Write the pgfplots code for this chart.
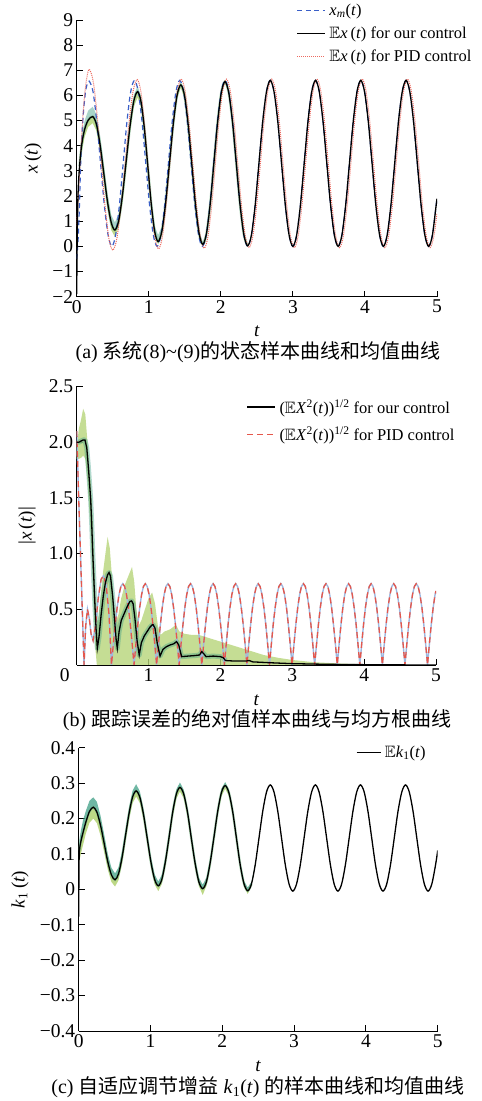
\documentclass[border=0pt]{standalone}
\usepackage{amssymb}
\usepackage{fontspec}
\setmainfont{Liberation Serif}
\newfontfamily\cjk{Noto Sans CJK SC}
\usepackage{pgfplots}
\usepackage{pgfplotstable}
\usepgfplotslibrary{fillbetween}
\pgfplotsset{compat=1.18}
\definecolor{myblue}{HTML}{3A5FC8}
\definecolor{myred}{HTML}{E5574C}
\definecolor{dotred}{HTML}{EC6A60}
\definecolor{ltblue}{HTML}{9FB8E0}
\definecolor{ygreen}{HTML}{B6D479}
\definecolor{tealg}{HTML}{3F9F86}

\pgfplotsset{myax/.style={
  scale only axis, anchor=south west,
  axis lines=left, axis line style={-, line width=0.9pt},
  every outer x axis line/.append style={-}, every outer y axis line/.append style={-},
  tick align=inside, major tick length=6pt,
  every tick/.style={black, line width=0.9pt},
  tick label style={font=\fontsize{19.5}{21}\selectfont},
  label style={font=\fontsize{19}{21}\selectfont},
  x label style={at={(axis description cs:0.5,0)}, yshift=-35pt, anchor=center},
  /pgf/number format/assume math mode=true,
  xmin=0, xmax=5, xtick={0,1,2,3,4,5},
  legend style={draw=none, fill=none, font=\fontsize{16.5}{19}\selectfont, legend cell align=left, inner sep=0pt,
     nodes={inner xsep=3.5pt, inner ysep=2.5pt}},
  legend image code/.code={\draw[##1] (0pt,0pt) -- (28pt,0pt);},
}}

% ---------- data (a) ----------
\pgfplotstableread[row sep=\\]{
t v\\
0 -1.9\\ 0.008 0.6\\ 0.02 2.2\\ 0.04 3.2\\ 0.07 4.05\\ 0.11 4.65\\ 0.16 5.02\\ 0.222 5.16\\
0.273 4.86\\ 0.325 4.03\\ 0.376 2.905\\ 0.427 1.78\\ 0.479 0.95\\ 0.53 0.65\\
0.5825 1.02\\ 0.635 2.03\\ 0.6875 3.40\\ 0.74 4.78\\ 0.7925 5.78\\ 0.845 6.15\\
0.8925 5.75\\ 0.94 4.66\\ 0.9875 3.17\\ 1.035 1.68\\ 1.0825 0.59\\ 1.13 0.19\\
1.1825 0.61\\ 1.235 1.75\\ 1.2875 3.31\\ 1.34 4.86\\ 1.3925 6.00\\ 1.445 6.42\\
1.496 6.0\\ 1.547 4.835\\ 1.598 3.25\\ 1.648 1.665\\ 1.699 0.505\\ 1.75 0.08\\
1.801 0.51\\ 1.853 1.70\\ 1.904 3.315\\ 1.955 4.93\\ 2.007 6.12\\ 2.058 6.55\\
2.110 6.11\\ 2.163 4.92\\ 2.215 3.285\\ 2.267 1.65\\ 2.320 0.46\\ 2.372 0.02\\
2.424 0.442\\ 2.477 1.65\\ 2.529 3.3\\ 2.581 4.95\\ 2.634 6.158\\ 2.686 6.6\\
2.738 6.158\\ 2.791 4.95\\ 2.843 3.3\\ 2.895 1.65\\ 2.948 0.442\\ 3.000 0\\
3.052 0.442\\ 3.105 1.65\\ 3.157 3.3\\ 3.209 4.95\\ 3.262 6.158\\ 3.314 6.6\\
3.366 6.158\\ 3.419 4.95\\ 3.471 3.3\\ 3.523 1.65\\ 3.576 0.442\\ 3.628 0\\
3.680 0.442\\ 3.733 1.65\\ 3.785 3.3\\ 3.837 4.95\\ 3.890 6.158\\ 3.942 6.6\\
3.994 6.158\\ 4.047 4.95\\ 4.099 3.3\\ 4.151 1.65\\ 4.204 0.442\\ 4.256 0\\
4.308 0.442\\ 4.361 1.65\\ 4.413 3.3\\ 4.465 4.95\\ 4.518 6.158\\ 4.570 6.6\\
4.622 6.158\\ 4.675 4.95\\ 4.727 3.3\\ 4.779 1.65\\ 4.832 0.442\\ 4.884 0\\
4.936 0.442\\ 4.989 1.65\\ 5.0 1.9\\
}\blackA

\pgfplotstableread[row sep=\\]{
t v\\
0 -0.5\\ 0.02 0.3\\ 0.036 1.45\\ 0.06 3.7\\ 0.09 5.2\\ 0.12 6.1\\ 0.145 6.45\\ 0.174 6.57\\
0.226 6.158\\ 0.279 4.95\\ 0.331 3.3\\ 0.383 1.65\\ 0.436 0.442\\ 0.488 0\\
0.540 0.442\\ 0.593 1.65\\ 0.645 3.3\\ 0.697 4.95\\ 0.750 6.158\\ 0.802 6.6\\
0.854 6.158\\ 0.907 4.95\\ 0.959 3.3\\ 1.011 1.65\\ 1.064 0.442\\ 1.116 0\\
1.168 0.442\\ 1.221 1.65\\ 1.273 3.3\\ 1.325 4.95\\ 1.378 6.158\\ 1.430 6.6\\
1.482 6.158\\ 1.535 4.95\\ 1.587 3.3\\ 1.639 1.65\\ 1.692 0.442\\ 1.744 0\\
1.796 0.442\\ 1.849 1.65\\ 1.901 3.3\\ 1.953 4.95\\ 2.006 6.158\\ 2.058 6.6\\
2.110 6.158\\ 2.163 4.95\\ 2.215 3.3\\ 2.267 1.65\\ 2.320 0.442\\ 2.372 0\\
2.424 0.442\\ 2.477 1.65\\ 2.529 3.3\\ 2.581 4.95\\ 2.634 6.158\\ 2.686 6.6\\
2.738 6.158\\ 2.791 4.95\\ 2.843 3.3\\ 2.895 1.65\\ 2.948 0.442\\ 3.000 0\\
3.052 0.442\\ 3.105 1.65\\ 3.157 3.3\\ 3.209 4.95\\ 3.262 6.158\\ 3.314 6.6\\
3.366 6.158\\ 3.419 4.95\\ 3.471 3.3\\ 3.523 1.65\\ 3.576 0.442\\ 3.628 0\\
3.680 0.442\\ 3.733 1.65\\ 3.785 3.3\\ 3.837 4.95\\ 3.890 6.158\\ 3.942 6.6\\
3.994 6.158\\ 4.047 4.95\\ 4.099 3.3\\ 4.151 1.65\\ 4.204 0.442\\ 4.256 0\\
4.308 0.442\\ 4.361 1.65\\ 4.413 3.3\\ 4.465 4.95\\ 4.518 6.158\\ 4.570 6.6\\
4.622 6.158\\ 4.675 4.95\\ 4.727 3.3\\ 4.779 1.65\\ 4.832 0.442\\ 4.884 0\\
4.936 0.442\\ 4.989 1.65\\ 5.0 1.9\\
}\blueA

\pgfplotstableread[row sep=\\]{
t v\\
0 0.8\\ 0.03 2.4\\ 0.06 4.0\\ 0.1 5.7\\ 0.14 6.7\\ 0.175 7.04\\
0.229 6.56\\ 0.283 5.24\\ 0.3375 3.445\\ 0.392 1.65\\ 0.446 0.33\\ 0.5 -0.15\\
0.5567 0.30\\ 0.6133 1.545\\ 0.67 3.24\\ 0.7267 4.935\\ 0.7833 6.18\\ 0.84 6.63\\
0.889 6.18\\ 0.938 4.95\\ 0.9875 3.265\\ 1.037 1.58\\ 1.086 0.35\\ 1.135 -0.1\\
1.1875 0.35\\ 1.24 1.59\\ 1.2925 3.275\\ 1.345 4.96\\ 1.3975 6.2\\ 1.45 6.65\\
1.503 6.2\\ 1.557 4.97\\ 1.61 3.29\\ 1.663 1.61\\ 1.717 0.38\\ 1.77 -0.07\\
1.821 0.38\\ 1.873 1.61\\ 1.924 3.29\\ 1.975 4.97\\ 2.027 6.2\\ 2.078 6.65\\
2.130 6.2\\ 2.183 4.975\\ 2.235 3.3\\ 2.287 1.625\\ 2.340 0.4\\ 2.392 -0.05\\
2.444 0.4\\ 2.497 1.625\\ 2.549 3.3\\ 2.601 4.975\\ 2.654 6.2\\ 2.706 6.65\\
2.758 6.2\\ 2.811 4.975\\ 2.863 3.3\\ 2.915 1.625\\ 2.968 0.4\\ 3.020 -0.05\\
3.072 0.4\\ 3.125 1.625\\ 3.177 3.3\\ 3.229 4.975\\ 3.282 6.2\\ 3.334 6.65\\
3.386 6.2\\ 3.439 4.975\\ 3.491 3.3\\ 3.543 1.625\\ 3.596 0.4\\ 3.648 -0.05\\
3.700 0.4\\ 3.753 1.625\\ 3.805 3.3\\ 3.857 4.975\\ 3.910 6.2\\ 3.962 6.65\\
4.014 6.2\\ 4.067 4.975\\ 4.119 3.3\\ 4.171 1.625\\ 4.224 0.4\\ 4.276 -0.05\\
4.328 0.4\\ 4.381 1.625\\ 4.433 3.3\\ 4.485 4.975\\ 4.538 6.2\\ 4.590 6.65\\
4.642 6.2\\ 4.695 4.975\\ 4.747 3.3\\ 4.799 1.625\\ 4.852 0.4\\ 4.904 -0.05\\
4.956 0.4\\ 5.0 1.3\\
}\redA

\pgfplotstableread[row sep=\\]{
t lo m hi\\
0.04 2.9 3.2 3.5\\ 0.07 3.75 4.05 4.4\\ 0.11 4.35 4.65 5.0\\ 0.16 4.75 5.02 5.4\\
0.222 4.9 5.16 5.55\\ 0.273 4.6 4.86 5.25\\ 0.325 3.75 4.03 4.4\\ 0.376 2.6 2.905 3.25\\
0.427 1.5 1.78 2.1\\ 0.479 0.65 0.95 1.25\\ 0.53 0.38 0.65 0.95\\ 0.5825 0.75 1.02 1.3\\
0.635 1.75 2.03 2.3\\ 0.6875 3.15 3.40 3.65\\ 0.74 4.55 4.78 5.0\\ 0.7925 5.55 5.78 6.0\\
0.845 5.92 6.15 6.38\\ 0.8925 5.55 5.75 5.95\\ 0.94 4.45 4.66 4.85\\ 0.9875 2.97 3.17 3.37\\
1.035 1.5 1.68 1.9\\ 1.0825 0.45 0.59 0.8\\ 1.13 0.08 0.19 0.45\\ 1.1825 0.5 0.61 0.8\\
1.235 1.62 1.75 1.9\\ 1.2875 3.18 3.31 3.45\\ 1.34 4.74 4.86 4.98\\ 1.3925 5.88 6.0 6.12\\
1.445 6.3 6.42 6.55\\ 1.496 5.9 6.0 6.1\\ 1.547 4.74 4.835 4.93\\ 1.598 3.16 3.25 3.34\\
1.648 1.58 1.665 1.75\\ 1.699 0.43 0.505 0.58\\ 1.75 0.0 0.08 0.18\\ 1.801 0.44 0.51 0.58\\
1.853 1.64 1.70 1.76\\ 1.904 3.26 3.315 3.37\\ 1.955 4.88 4.93 4.98\\ 2.007 6.08 6.12 6.17\\
2.058 6.5 6.55 6.62\\ 2.110 6.07 6.11 6.15\\ 2.163 4.89 4.92 4.95\\ 2.215 3.26 3.285 3.31\\
2.267 1.63 1.65 1.67\\ 2.320 0.43 0.46 0.49\\ 2.372 -0.02 0.02 0.06\\
}\bandA

% ---------- data (b) ----------
\pgfplotstableread[row sep=\\]{
t v\\
0 2.0\\ 0.03 2.0\\ 0.06 2.01\\ 0.09 2.02\\ 0.115 2.02\\ 0.14 1.95\\ 0.162 1.78\\ 0.18 1.62\\
0.195 1.48\\ 0.21 1.25\\ 0.222 1.03\\ 0.24 0.75\\ 0.255 0.52\\ 0.27 0.32\\ 0.287 0.15\\
0.31 0.25\\ 0.34 0.45\\ 0.37 0.62\\ 0.40 0.74\\ 0.43 0.81\\ 0.45 0.83\\ 0.47 0.8\\
0.5 0.62\\ 0.53 0.38\\ 0.55 0.22\\ 0.565 0.15\\ 0.59 0.3\\ 0.62 0.4\\ 0.66 0.46\\
0.7 0.52\\ 0.74 0.57\\ 0.764 0.575\\ 0.785 0.55\\ 0.81 0.42\\ 0.84 0.22\\ 0.87 0.09\\
0.9 0.2\\ 0.94 0.26\\ 0.98 0.3\\ 1.02 0.34\\ 1.05 0.36\\ 1.065 0.36\\ 1.09 0.33\\
1.12 0.2\\ 1.16 0.08\\ 1.2 0.14\\ 1.25 0.165\\ 1.3 0.18\\ 1.35 0.19\\ 1.39 0.21\\
1.42 0.18\\ 1.46 0.075\\ 1.55 0.08\\ 1.65 0.085\\ 1.71 0.09\\ 1.74 0.12\\ 1.77 0.1\\
1.8 0.075\\ 1.9 0.08\\ 2.0 0.075\\ 2.04 0.065\\ 2.07 0.04\\ 2.2 0.035\\ 2.35 0.035\\
2.4 0.04\\ 2.45 0.028\\ 2.7 0.02\\ 3.0 0.012\\ 3.5 0.006\\ 4.0 0.003\\ 4.5 0.001\\ 5.0 0.0\\
}\blackB

\pgfplotstableread[row sep=\\]{
t v\\
0 2.1\\ 0.03 1.45\\ 0.06 0.85\\ 0.085 0.35\\ 0.102 0.0\\ 0.125 0.35\\ 0.15 0.5\\ 0.175 0.42\\
0.2 0.28\\ 0.228 0.22\\ 0.26 0.35\\ 0.3 0.6\\ 0.34 0.77\\ 0.372 0.8\\ 0.41 0.72\\ 0.45 0.45\\ 0.484 0.0\\
0.510 0.189\\ 0.536 0.365\\ 0.563 0.516\\ 0.589 0.632\\ 0.615 0.705\\ 0.641 0.73\\ 0.667 0.705\\ 0.693 0.632\\ 0.720 0.516\\ 0.746 0.365\\ 0.772 0.189\\ 0.798 0\\
0.824 0.189\\ 0.851 0.365\\ 0.877 0.516\\ 0.903 0.632\\ 0.929 0.705\\ 0.955 0.73\\ 0.981 0.705\\ 1.008 0.632\\ 1.034 0.516\\ 1.060 0.365\\ 1.086 0.189\\ 1.112 0\\
1.138 0.189\\ 1.165 0.365\\ 1.191 0.516\\ 1.217 0.632\\ 1.243 0.705\\ 1.269 0.73\\ 1.296 0.705\\ 1.322 0.632\\ 1.348 0.516\\ 1.374 0.365\\ 1.400 0.189\\ 1.426 0\\
1.452 0.189\\ 1.479 0.365\\ 1.505 0.516\\ 1.531 0.632\\ 1.557 0.705\\ 1.584 0.73\\ 1.610 0.705\\ 1.636 0.632\\ 1.662 0.516\\ 1.688 0.365\\ 1.714 0.189\\ 1.741 0\\
1.767 0.189\\ 1.793 0.365\\ 1.819 0.516\\ 1.845 0.632\\ 1.871 0.705\\ 1.898 0.73\\ 1.924 0.705\\ 1.950 0.632\\ 1.976 0.516\\ 2.002 0.365\\ 2.029 0.189\\ 2.055 0\\
2.081 0.189\\ 2.107 0.365\\ 2.133 0.516\\ 2.159 0.632\\ 2.186 0.705\\ 2.212 0.73\\ 2.238 0.705\\ 2.264 0.632\\ 2.290 0.516\\ 2.317 0.365\\ 2.343 0.189\\ 2.369 0\\
2.395 0.189\\ 2.421 0.365\\ 2.447 0.516\\ 2.474 0.632\\ 2.500 0.705\\ 2.526 0.73\\ 2.552 0.705\\ 2.578 0.632\\ 2.605 0.516\\ 2.631 0.365\\ 2.657 0.189\\ 2.683 0\\
2.709 0.189\\ 2.735 0.365\\ 2.762 0.516\\ 2.788 0.632\\ 2.814 0.705\\ 2.840 0.73\\ 2.866 0.705\\ 2.893 0.632\\ 2.919 0.516\\ 2.945 0.365\\ 2.971 0.189\\ 2.997 0\\
3.024 0.189\\ 3.050 0.365\\ 3.076 0.516\\ 3.102 0.632\\ 3.128 0.705\\ 3.155 0.73\\ 3.181 0.705\\ 3.207 0.632\\ 3.233 0.516\\ 3.259 0.365\\ 3.285 0.189\\ 3.311 0\\
3.338 0.189\\ 3.364 0.365\\ 3.390 0.516\\ 3.416 0.632\\ 3.442 0.705\\ 3.469 0.73\\ 3.495 0.705\\ 3.521 0.632\\ 3.547 0.516\\ 3.573 0.365\\ 3.600 0.189\\ 3.626 0\\
3.652 0.189\\ 3.678 0.365\\ 3.704 0.516\\ 3.730 0.632\\ 3.757 0.705\\ 3.783 0.73\\ 3.809 0.705\\ 3.835 0.632\\ 3.861 0.516\\ 3.888 0.365\\ 3.914 0.189\\ 3.940 0\\
3.966 0.189\\ 3.992 0.365\\ 4.018 0.516\\ 4.045 0.632\\ 4.071 0.705\\ 4.097 0.73\\ 4.123 0.705\\ 4.149 0.632\\ 4.175 0.516\\ 4.202 0.365\\ 4.228 0.189\\ 4.254 0\\
4.280 0.189\\ 4.306 0.365\\ 4.332 0.516\\ 4.359 0.632\\ 4.385 0.705\\ 4.411 0.73\\ 4.437 0.705\\ 4.463 0.632\\ 4.490 0.516\\ 4.516 0.365\\ 4.542 0.189\\ 4.568 0\\
4.594 0.189\\ 4.620 0.365\\ 4.647 0.516\\ 4.673 0.632\\ 4.699 0.705\\ 4.725 0.73\\ 4.751 0.705\\ 4.777 0.632\\ 4.804 0.516\\ 4.830 0.365\\ 4.856 0.189\\ 4.882 0\\
4.908 0.189\\ 4.934 0.365\\ 4.961 0.516\\ 4.987 0.632\\ 5.0 0.665\\
}\redB

\pgfplotstableread[row sep=\\]{
t lo hi\\
0 1.85 1.95\\ 0.03 1.85 2.12\\ 0.06 1.86 2.2\\ 0.09 1.88 2.3\\ 0.12 1.85 2.25\\ 0.15 1.65 2.0\\
0.18 1.35 1.75\\ 0.2 1.1 1.6\\ 0.22 0.8 1.35\\ 0.24 0.45 1.0\\ 0.26 0.15 0.65\\ 0.28 0.0 0.4\\
0.3 0 0.4\\ 0.33 0 0.6\\ 0.37 0 0.85\\ 0.41 0 1.05\\ 0.43 0 1.15\\ 0.46 0 1.05\\ 0.49 0 0.8\\
0.52 0 0.55\\ 0.55 0 0.4\\ 0.58 0 0.45\\ 0.62 0 0.6\\ 0.67 0 0.72\\ 0.72 0 0.8\\ 0.77 0 0.88\\
0.8 0 0.75\\ 0.83 0 0.5\\ 0.86 0 0.35\\ 0.9 0 0.4\\ 0.95 0 0.5\\ 1.0 0 0.6\\ 1.05 0 0.65\\
1.09 0 0.55\\ 1.13 0 0.35\\ 1.17 0 0.27\\ 1.22 0 0.3\\ 1.3 0 0.32\\ 1.38 0 0.36\\ 1.43 0 0.3\\
1.5 0 0.28\\ 1.6 0 0.27\\ 1.7 0 0.27\\ 1.8 0 0.25\\ 1.9 0 0.23\\ 2.0 0 0.21\\ 2.2 0 0.17\\
2.4 0 0.13\\ 2.6 0 0.09\\ 2.8 0 0.065\\ 3.0 0 0.045\\ 3.3 0 0.025\\ 3.6 0 0.015\\ 4.0 0 0.006\\ 4.3 0 0.0\\
}\bandB

% ---------- data (c) ----------
\pgfplotstableread[row sep=\\]{
t v\\
0 -0.077\\ 0.004 0.06\\ 0.01 0.11\\ 0.03 0.135\\ 0.06 0.16\\ 0.1 0.19\\ 0.15 0.22\\ 0.203 0.232\\
0.2535 0.218\\ 0.304 0.181\\ 0.3545 0.130\\ 0.405 0.078\\ 0.4555 0.041\\ 0.506 0.027\\
0.555 0.044\\ 0.604 0.090\\ 0.653 0.153\\ 0.702 0.215\\ 0.751 0.261\\ 0.80 0.278\\
0.8515 0.26\\ 0.903 0.211\\ 0.9545 0.144\\ 1.006 0.077\\ 1.0575 0.028\\ 1.109 0.01\\
1.159 0.029\\ 1.209 0.080\\ 1.26 0.149\\ 1.31 0.219\\ 1.36 0.269\\ 1.41 0.288\\
1.463 0.269\\ 1.516 0.217\\ 1.568 0.145\\ 1.621 0.074\\ 1.674 0.021\\ 1.727 0.002\\
1.779 0.0215\\ 1.831 0.075\\ 1.884 0.1475\\ 1.936 0.220\\ 1.988 0.2735\\ 2.040 0.293\\
2.092 0.273\\ 2.145 0.219\\ 2.197 0.1445\\ 2.249 0.070\\ 2.302 0.016\\ 2.354 -0.004\\
2.406 0.015\\ 2.459 0.07\\ 2.511 0.145\\ 2.563 0.22\\ 2.616 0.275\\ 2.668 0.295\\
2.720 0.275\\ 2.773 0.22\\ 2.825 0.145\\ 2.877 0.07\\ 2.930 0.015\\ 2.982 -0.005\\
3.034 0.015\\ 3.087 0.07\\ 3.139 0.145\\ 3.191 0.22\\ 3.244 0.275\\ 3.296 0.295\\
3.348 0.275\\ 3.401 0.22\\ 3.453 0.145\\ 3.505 0.07\\ 3.558 0.015\\ 3.610 -0.005\\
3.662 0.015\\ 3.715 0.07\\ 3.767 0.145\\ 3.819 0.22\\ 3.872 0.275\\ 3.924 0.295\\
3.976 0.275\\ 4.029 0.22\\ 4.081 0.145\\ 4.133 0.07\\ 4.186 0.015\\ 4.238 -0.005\\
4.290 0.015\\ 4.343 0.07\\ 4.395 0.145\\ 4.447 0.22\\ 4.500 0.275\\ 4.552 0.295\\
4.604 0.275\\ 4.657 0.22\\ 4.709 0.145\\ 4.761 0.07\\ 4.814 0.015\\ 4.866 -0.005\\
4.918 0.015\\ 4.971 0.07\\ 5.0 0.11\\
}\kone

\pgfplotstableread[row sep=\\]{
t lo m hi\\
0.01 0.08 0.11 0.14\\ 0.03 0.10 0.135 0.165\\ 0.06 0.125 0.16 0.195\\ 0.1 0.158 0.19 0.222\\
0.15 0.188 0.22 0.25\\ 0.203 0.2 0.232 0.26\\ 0.2535 0.187 0.218 0.247\\ 0.304 0.152 0.181 0.208\\
0.3545 0.105 0.130 0.155\\ 0.405 0.056 0.078 0.100\\ 0.4555 0.021 0.041 0.061\\ 0.506 0.008 0.027 0.045\\
0.555 0.026 0.044 0.062\\ 0.604 0.072 0.090 0.108\\ 0.653 0.136 0.153 0.17\\ 0.702 0.198 0.215 0.232\\
0.751 0.244 0.261 0.279\\ 0.80 0.262 0.278 0.297\\ 0.8515 0.244 0.26 0.277\\ 0.903 0.196 0.211 0.226\\
0.9545 0.13 0.144 0.158\\ 1.006 0.063 0.077 0.091\\ 1.0575 0.014 0.028 0.042\\ 1.109 -0.005 0.01 0.022\\
1.159 0.016 0.029 0.042\\ 1.209 0.067 0.080 0.093\\ 1.26 0.136 0.149 0.162\\ 1.31 0.206 0.219 0.232\\
1.36 0.256 0.269 0.282\\ 1.41 0.276 0.288 0.302\\ 1.463 0.257 0.269 0.281\\ 1.516 0.205 0.217 0.229\\
1.568 0.133 0.145 0.157\\ 1.621 0.062 0.074 0.086\\ 1.674 0.009 0.021 0.033\\ 1.727 -0.016 0.002 0.013\\
1.779 0.01 0.0215 0.033\\ 1.831 0.064 0.075 0.086\\ 1.884 0.137 0.1475 0.158\\ 1.936 0.21 0.220 0.23\\
1.988 0.263 0.2735 0.284\\ 2.040 0.284 0.293 0.303\\ 2.092 0.264 0.273 0.282\\ 2.145 0.21 0.219 0.228\\
2.197 0.136 0.1445 0.153\\ 2.249 0.062 0.070 0.078\\ 2.302 0.008 0.016 0.024\\ 2.354 -0.013 -0.004 0.005\\
2.406 0.009 0.015 0.021\\ 2.459 0.067 0.07 0.073\\ 2.511 0.145 0.145 0.145\\
}\kband

\begin{document}
\begin{tikzpicture}[x=1pt,y=1pt]

% ================= (a) =================
\begin{axis}[myax, at={(76.7pt,804.3pt)}, width=360.3pt, height=276.7pt,
  ymin=-2, ymax=9, ytick={-2,-1,0,1,2,3,4,5,6,7,8,9},
  yticklabels={−2,−1,0,1,2,3,4,5,6,7,8,9}, xticklabels={0,1,2,3,4,5},
  xlabel={\textit{t}}, ylabel={\textit{x}\,(\textit{t})},
  y label style={at={(axis description cs:-0.121,0.5)}, anchor=center},
  legend style={at={(0.61,1.068)}, anchor=north west, row sep=5pt}]
\addplot[draw=none, forget plot, name path=aL] table[x=t,y=lo]{\bandA};
\addplot[draw=none, forget plot, name path=aM] table[x=t,y=m]{\bandA};
\addplot[draw=none, forget plot, name path=aH] table[x=t,y=hi]{\bandA};
\addplot[ygreen, opacity=0.85, forget plot] fill between[of=aL and aM];
\addplot[tealg!75, opacity=0.6, forget plot] fill between[of=aM and aH];
\addplot[tealg!60!ygreen, line width=2.5pt, opacity=0.5, smooth, forget plot, restrict x to domain=0.03:2.4] table[x=t,y=v]{\blackA};
\addplot[myblue, line width=1.2pt, dash pattern=on 5pt off 3.5pt, smooth, forget plot] table[x=t,y=v]{\blueA};
\addplot[dotred, line width=1pt, densely dotted, smooth, forget plot] table[x=t,y=v]{\redA};
\addplot[black, line width=1.3pt, smooth, forget plot] table[x=t,y=v]{\blackA};
\addlegendimage{myblue, line width=1.2pt, dash pattern=on 5pt off 3.5pt}
\addlegendentry{\textit{x}\textsubscript{\textit{m}}(\textit{t})}
\addlegendimage{black, line width=1.3pt}
\addlegendentry{$\mathbb{E}$\textit{x}\,(\textit{t}) for our control}
\addlegendimage{dotred, line width=1pt, densely dotted}
\addlegendentry{$\mathbb{E}$\textit{x}\,(\textit{t}) for PID control}
\end{axis}
\node[font=\fontsize{20}{22}\selectfont] at (258pt,749pt) {(a) {\cjk 系统}(8)\textasciitilde(9){\cjk 的状态样本曲线和均值曲线}};

% ================= (b) =================
\begin{axis}[myax, at={(76.7pt,436pt)}, width=359.3pt, height=278.5pt,
  ymin=0, ymax=2.5, ytick={0.5,1,1.5,2,2.5},
  yticklabels={0.5,1.0,1.5,2.0,2.5}, xticklabels={\llap{0\hspace{7pt}},1,2,3,4,5},
  xlabel={\textit{t}}, ylabel={|\textit{x}\,(\textit{t})|},
  y label style={at={(axis description cs:-0.138,0.5)}, anchor=center},
  legend style={at={(0.4726,0.9634)}, anchor=north west, row sep=7pt}]
\addplot[draw=none, forget plot, name path=bL] table[x=t,y=lo]{\bandB};
\addplot[draw=none, forget plot, name path=bH] table[x=t,y=hi]{\bandB};
\addplot[ygreen, opacity=0.8, forget plot] fill between[of=bL and bH];
\addplot[tealg, line width=5pt, opacity=0.4, forget plot, line join=round, restrict x to domain=0:2.1] table[x=t,y=v]{\blackB};
\addplot[ltblue, line width=1.4pt, forget plot] table[x=t,y=v]{\redB};
\addplot[myred, line width=1.3pt, dash pattern=on 6pt off 4pt, forget plot] table[x=t,y=v]{\redB};
\addplot[black, line width=1.3pt, forget plot] table[x=t,y=v]{\blackB};
\addlegendimage{black, line width=1.3pt}
\addlegendentry{($\mathbb{E}$\textit{X}\textsuperscript{2}(\textit{t}))\textsuperscript{1/2} for our control}
\addlegendimage{myred, line width=1.3pt, dash pattern=on 6pt off 4pt}
\addlegendentry{($\mathbb{E}$\textit{X}\textsuperscript{2}(\textit{t}))\textsuperscript{1/2} for PID control}
\end{axis}
\node[font=\fontsize{20}{22}\selectfont] at (257pt,381pt) {(b) {\cjk 跟踪误差的绝对值样本曲线与均方根曲线}};

% ================= (c) =================
\begin{axis}[myax, at={(78.7pt,70pt)}, width=359pt, height=283.3pt,
  ymin=-0.4, ymax=0.4, ytick={-0.4,-0.3,-0.2,-0.1,0,0.1,0.2,0.3,0.4},
  yticklabels={−0.4,−0.3,−0.2,−0.1,0,0.1,0.2,0.3,0.4}, xticklabels={0,1,2,3,4,5},
  xlabel={\textit{t}}, ylabel={\textit{k}\textsubscript{1}\,(\textit{t})},
  y label style={at={(axis description cs:-0.1635,0.5)}, anchor=center},
  legend image code/.code={\draw[#1] (0pt,0pt) -- (24pt,0pt);},
  legend style={at={(0.772,1.0166)}, anchor=north west}]
\addplot[draw=none, forget plot, name path=cL] table[x=t,y=lo]{\kband};
\addplot[draw=none, forget plot, name path=cM] table[x=t,y=m]{\kband};
\addplot[draw=none, forget plot, name path=cH] table[x=t,y=hi]{\kband};
\addplot[ygreen, opacity=0.9, forget plot] fill between[of=cL and cM];
\addplot[tealg, opacity=0.75, forget plot] fill between[of=cM and cH];
\addplot[tealg!60!ygreen, line width=2.5pt, opacity=0.5, smooth, forget plot, restrict x to domain=0.01:2.45] table[x=t,y=v]{\kone};
\addplot[black, line width=1.3pt, smooth, forget plot] table[x=t,y=v]{\kone};
\addlegendimage{black, line width=1.3pt}
\addlegendentry{$\mathbb{E}$\textit{k}\textsubscript{1}(\textit{t})}
\end{axis}
\node[font=\fontsize{20}{22}\selectfont] at (258pt,14pt) {(c) {\cjk 自适应调节增益} \textit{k}\textsubscript{1}(\textit{t}) {\cjk 的样本曲线和均值曲线}};

\pgfresetboundingbox
\path[use as bounding box] (0,0) rectangle (482,1101);
\end{tikzpicture}
\end{document}
